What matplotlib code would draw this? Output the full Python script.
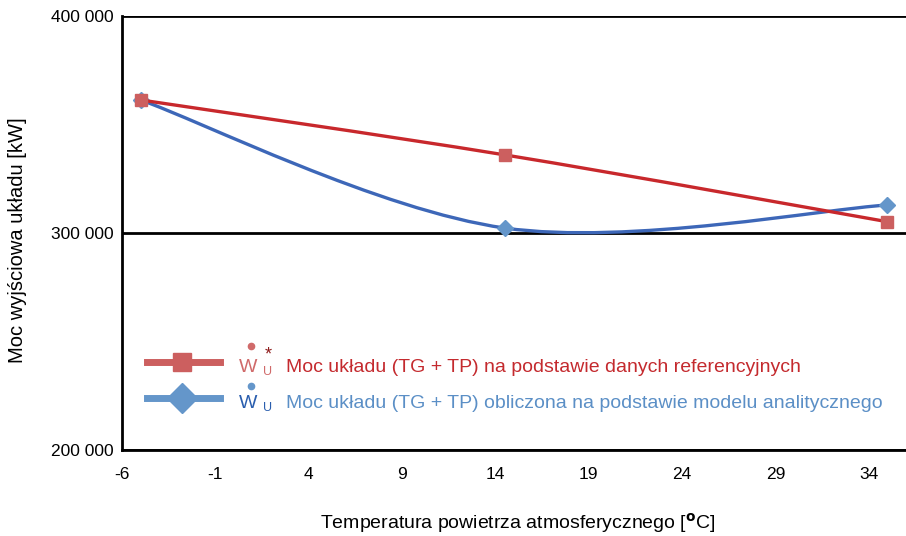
import matplotlib.pyplot as plt
from matplotlib.path import Path
from matplotlib.patches import PathPatch
from matplotlib.lines import Line2D

# dane
temp = [-5, 14.5, 35]
moc_ref = [361300, 336000, 305200]     # dane referencyjne
moc_model = [361300, 302300, 312900]   # model analityczny

x_ticks = [-6, -1, 4, 9, 14, 19, 24, 29, 34]
y_ticks = [200000, 300000, 400000]
y_tick_labels = ["200 000", "300 000", "400 000"]

RED_LINE = "#C8282C"
RED_MARK = "#CC5F5F"
BLUE_LINE = "#3D67B8"
BLUE_MARK = "#6496CA"

plt.rcParams["font.family"] = ["Liberation Sans", "DejaVu Sans"]


def smooth_path(xs, ys):
    """Gładka linia jak w Excelu (Bezier przez punkty)."""
    pts = list(zip(xs, ys))
    verts = [pts[0]]
    codes = [Path.MOVETO]
    n = len(pts)
    for i in range(n - 1):
        p0 = pts[i - 1] if i > 0 else pts[i]
        p1 = pts[i]
        p2 = pts[i + 1]
        p3 = pts[i + 2] if i + 2 < n else pts[i + 1]
        c1 = (p1[0] + (p2[0] - p0[0]) / 6, p1[1] + (p2[1] - p0[1]) / 6)
        c2 = (p2[0] - (p3[0] - p1[0]) / 6, p2[1] - (p3[1] - p1[1]) / 6)
        verts += [c1, c2, p2]
        codes += [Path.CURVE4] * 3
    return Path(verts, codes)


fig = plt.figure(figsize=(9.06, 5.36), dpi=100)
W, H = 906, 536
ax = fig.add_axes([122 / W, 1 - 450 / H, 1 - 122 / W, (450 - 16) / H])

ax.set_xlim(-6, 36)
ax.set_ylim(200000, 400000)

for y in y_ticks:
    ax.axhline(y, color="black", lw=2, zorder=1)

ax.add_patch(PathPatch(smooth_path(temp, moc_model), fill=False,
                       edgecolor=BLUE_LINE, lw=2.4, zorder=3))
ax.plot(temp, moc_model, ls="none", marker="D", ms=8, color=BLUE_MARK, zorder=4)
ax.add_patch(PathPatch(smooth_path(temp, moc_ref), fill=False,
                       edgecolor=RED_LINE, lw=2.4, zorder=5))
ax.plot(temp, moc_ref, ls="none", marker="s", ms=9, color=RED_MARK, zorder=6)

ax.set_xticks(x_ticks)
ax.set_xticklabels([str(t) for t in x_ticks], fontsize=12.5)
ax.set_yticks(y_ticks)
ax.set_yticklabels(y_tick_labels, fontsize=12.5)
ax.tick_params(axis="x", length=0, pad=12)
ax.tick_params(axis="y", length=0, pad=6)

for s in ["top", "right"]:
    ax.spines[s].set_visible(False)
ax.spines["left"].set_linewidth(2)
ax.spines["bottom"].set_linewidth(2)

fig.text(18 / W, 1 - 240 / H, "Moc wyjściowa układu [kW]", rotation=90,
         ha="center", va="center", fontsize=14.5)
fig.text(518 / W, 1 - 523 / H, "Temperatura powietrza atmosferycznego [$\\mathbf{^o}$C]",
         ha="center", va="center", fontsize=14)

# legenda rysowana ręcznie
legend = [
    (362, RED_MARK, "s", 13, "#D06A6A", "#D06A6A", -16, "*",
     "Moc układu (TG + TP) na podstawie danych referencyjnych", "#C42A2E"),
    (398, BLUE_MARK, "D", 15, "#2A5EAE", BLUE_MARK, -12, "",
     "Moc układu (TG + TP) obliczona na podstawie modelu analitycznego", "#5B8FC6"),
]
for yp, lcol, mk, ms, wcol, dotcol, dy, star, label, tcol in legend:
    yf = 1 - yp / H
    fig.add_artist(Line2D([147 / W, 220 / W], [yf, yf], color=lcol, lw=5,
                          transform=fig.transFigure))
    fig.add_artist(Line2D([182 / W], [yf], marker=mk, ms=ms, color=lcol,
                          transform=fig.transFigure))
    fig.text(248 / W, 1 - (yp + 5) / H, "W", color=wcol, fontsize=14,
             ha="center", va="center")
    fig.add_artist(Line2D([251 / W], [1 - (yp + dy) / H], marker="o", ms=4.5,
                          color=dotcol, transform=fig.transFigure))
    fig.text(268 / W, 1 - (yp + 10) / H, "U", color=wcol, fontsize=9,
             ha="center", va="center")
    if star:
        fig.text(268 / W, 1 - (yp - 7) / H, star, color="#8E1C1C", fontsize=13,
                 ha="center", va="center")
    fig.text(286 / W, 1 - (yp + 5) / H, label, color=tcol, fontsize=14,
             va="center")

fig.savefig("out.png", dpi=100)
